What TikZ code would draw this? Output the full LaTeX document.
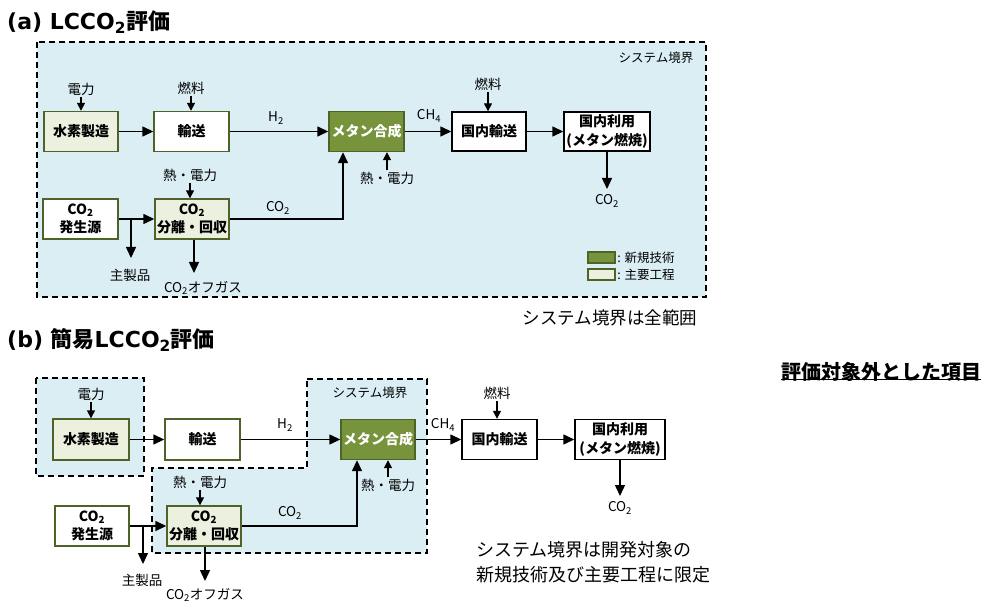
\documentclass[tikz,border=0pt]{standalone}
\usepackage{fontspec}
\setmainfont{Noto Sans CJK JP}
\newfontfamily\titlelatin{DejaVu Sans}
\usetikzlibrary{arrows.meta}
\definecolor{bgblue}{RGB}{219,238,244}
\definecolor{darkgreen}{RGB}{119,147,60}
\definecolor{lightgreen}{RGB}{235,241,222}
\definecolor{bordgreen}{RGB}{79,98,40}
\newcommand{\boxfont}{\fontsize{14}{18.5}\selectfont\bfseries}
\newcommand{\lblfont}{\fontsize{13.5}{15}\selectfont}
\newcommand{\smallfont}{\fontsize{12.5}{14}\selectfont}
\newcommand{\titlefont}{\fontsize{22}{24}\selectfont\bfseries}
\tikzset{
  box/.style={draw=bordgreen, line width=1.4pt, minimum height=40pt, inner sep=0pt, align=center, font=\boxfont, text=black},
  newtech/.style={box, fill=darkgreen, text=white},
  mainproc/.style={box, fill=lightgreen},
  plainbox/.style={box, fill=white},
  blackbox/.style={box, draw=black, fill=white},
  lbl/.style={inner sep=1.5pt, font=\lblfont},
  arr/.style={line width=1.4pt, -{Triangle[length=11pt,width=10pt]}},
  sarr/.style={line width=1.4pt, -{Triangle[length=8pt,width=8pt]}},
  bound/.style={draw=black, dash pattern=on 6pt off 4pt, line width=1.3pt, fill=bgblue},
}
\begin{document}
\begin{tikzpicture}[x=1pt,y=-1pt]
\useasboundingbox (0,0) rectangle (989,604);
% ================= (a) =================
\node[anchor=west, font=\titlefont, inner sep=0pt] (ta) at (7,22) {{\titlelatin (a) LCCO\textsubscript{2}}評価};
\draw[bound] (37,42) rectangle (706,297);
\node[lbl, font=\smallfont] (sba) at (656,58) {システム境界};
\node[mainproc, minimum width=74pt] (h2prod) at (81,131.5) {水素製造};
\node[plainbox, minimum width=75pt] (trans) at (191.5,131.5) {輸送};
\node[newtech, minimum width=75pt] (meth) at (366.5,131.5) {メタン合成};
\node[blackbox, minimum width=74pt, minimum height=39pt] (dom) at (489,131.5) {国内輸送};
\node[blackbox, minimum width=86pt, minimum height=39pt] (use) at (607,131.5) {国内利用\\(メタン燃焼)};
\node[lbl] (e1) at (81,89) {電力};
\draw[sarr] (e1) -- (e1 |- h2prod.north);
\node[lbl] (f1) at (191,88) {燃料};
\draw[sarr] (f1) -- (f1 |- trans.north);
\node[lbl] (f2) at (488,84) {燃料};
\draw[sarr] (f2) -- (f2 |- dom.north);
\draw[arr] (h2prod) -- (trans);
\draw[arr] (trans) -- (meth);
\node[lbl] (lh2) at (276,118) {H\textsubscript{2}};
\draw[arr] (meth) -- (dom);
\node[lbl] (lch4) at (429,116) {CH\textsubscript{4}};
\draw[arr] (dom) -- (use);
\coordinate (co2end) at (607,189);
\draw[arr] (use) -- (co2end);
\node[lbl] (lco2u) at (607,201) {CO\textsubscript{2}};
\node[plainbox, minimum width=75pt] (src) at (80.5,219) {CO\textsubscript{2}\\発生源};
\node[mainproc, minimum width=74pt] (sep) at (192,219) {CO\textsubscript{2}\\分離・回収};
\node[lbl] (hp1) at (190,175) {熱・電力};
\draw[sarr] (hp1) -- (hp1 |- sep.north);
\draw[arr] (src) -- (sep);
\coordinate (br1) at (131,219);
\coordinate (br1e) at (131,258);
\draw[arr] (br1) -- (br1e);
\node[lbl] (prod1) at (130,275) {主製品};
\coordinate (og1) at (194,273);
\draw[arr] (sep.south -| og1) -- (og1);
\node[lbl] (oglbl1) at (203,288) {CO\textsubscript{2}オフガス};
\coordinate (c1) at (343,152);
\draw[arr] (sep) -| (c1 |- meth.south);
\node[lbl] (lco2) at (278,208) {CO\textsubscript{2}};
\node[lbl] (hp2) at (387,178) {熱・電力};
\draw[sarr] (hp2) -- (hp2 |- meth.south);
% legend
\node[draw=bordgreen, line width=1.2pt, fill=darkgreen, minimum width=27pt, minimum height=11pt, inner sep=0pt] (lg1) at (601.5,257.5) {};
\node[draw=bordgreen, line width=1.2pt, fill=lightgreen, minimum width=27pt, minimum height=11pt, inner sep=0pt] (lg2) at (601.5,274.5) {};
\node[lbl, font=\smallfont, anchor=west] (lgt1) at (lg1.east) {: 新規技術};
\node[lbl, font=\smallfont, anchor=west] (lgt2) at (lg2.east) {: 主要工程};
\node[inner sep=0pt, font=\fontsize{17.5}{20}\selectfont] (notea) at (610,318) {システム境界は全範囲};
% ================= (b) =================
\node[anchor=west, font=\titlefont, inner sep=0pt] (tb) at (7,340) {{\titlelatin (b) }簡易{\titlelatin LCCO\textsubscript{2}}評価};
\draw[bound] (36,378) rectangle (144,476);
\draw[bound] (307,379) -- (427,379) -- (427,553) -- (152,553) -- (152,468) -- (307,468) -- cycle;
\node[lbl, font=\smallfont] (sbb) at (370,393) {システム境界};
\node[mainproc, minimum width=76pt, minimum height=41pt] (bh2) at (91,439.5) {水素製造};
\node[plainbox, minimum width=75pt, minimum height=41pt] (btr) at (202.5,439.5) {輸送};
\node[newtech, minimum width=74pt] (bme) at (378,439.5) {メタン合成};
\node[blackbox, minimum width=75pt] (bdom) at (499.5,439.5) {国内輸送};
\node[blackbox, minimum width=90pt] (buse) at (620,439.5) {国内利用\\(メタン燃焼)};
\node[lbl] (be1) at (91,394) {電力};
\draw[sarr] (be1) -- (be1 |- bh2.north);
\draw[arr] (bh2) -- (btr);
\draw[arr] (btr) -- (bme);
\node[lbl] (blh2) at (285,425) {H\textsubscript{2}};
\draw[arr] (bme) -- (bdom);
\node[lbl] (blch4) at (443,425) {CH\textsubscript{4}};
\node[lbl] (bf2) at (497,393) {燃料};
\draw[sarr] (bf2) -- (bf2 |- bdom.north);
\draw[arr] (bdom) -- (buse);
\coordinate (bco2end) at (620,496);
\draw[arr] (buse) -- (bco2end);
\node[lbl] (blco2u) at (620,508) {CO\textsubscript{2}};
\node[plainbox, minimum width=74pt] (bsrc) at (92,526) {CO\textsubscript{2}\\発生源};
\node[mainproc, minimum width=74pt] (bsep) at (204,526) {CO\textsubscript{2}\\分離・回収};
\node[lbl] (bhp1) at (200,482) {熱・電力};
\draw[sarr] (bhp1) -- (bhp1 |- bsep.north);
\draw[arr] (bsrc) -- (bsep);
\coordinate (br2) at (143,526);
\coordinate (br2e) at (143,564);
\draw[arr] (br2) -- (br2e);
\node[lbl] (prod2) at (142,580) {主製品};
\coordinate (og2) at (205,581);
\draw[arr] (bsep.south -| og2) -- (og2);
\node[lbl] (oglbl2) at (205,595) {CO\textsubscript{2}オフガス};
\coordinate (c2) at (357,460);
\draw[arr] (bsep) -| (c2 |- bme.south);
\node[lbl] (blco2) at (290,513) {CO\textsubscript{2}};
\node[lbl] (bhp2) at (388,485) {熱・電力};
\draw[sarr] (bhp2) -- (bhp2 |- bme.south);
\node[anchor=west, align=left, inner sep=0pt, font=\fontsize{18}{25}\selectfont] (noteb) at (476,562) {システム境界は開発対象の\\新規技術及び主要工程に限定};
\node[inner sep=0pt, font=\fontsize{20}{22}\selectfont\bfseries] (excl) at (881,372) {評価対象外とした項目};
\draw[line width=1.2pt] ([yshift=2pt]excl.south west) -- ([yshift=2pt]excl.south east);
\end{tikzpicture}
\end{document}
